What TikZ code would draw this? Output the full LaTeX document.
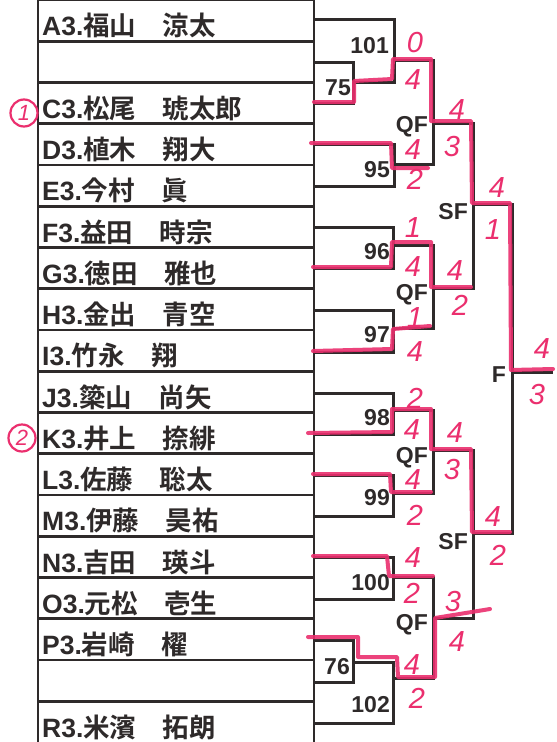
\documentclass[tikz,border=0pt]{standalone}
\usepackage{fontspec}
\setmainfont{Liberation Sans}
\newfontfamily\jp{Noto Sans CJK JP}[BoldFont={Noto Sans CJK JP Bold}]
\definecolor{ink}{HTML}{2E2A2A}
\definecolor{pen}{HTML}{EB2F6E}
\tikzset{
  tab/.style={draw=ink, line width=2.6pt},
  br/.style={draw=ink, line width=3pt, line join=miter},
  hl/.style={draw=pen, line width=4pt, line cap=round, line join=round, opacity=0.9},
  nm/.style={anchor=base west, inner sep=0pt, text=ink, font=\fontsize{26.5}{26.5}\selectfont\bfseries},
  mno/.style={anchor=east, inner sep=0pt, text=ink, font=\fontsize{23}{23}\selectfont\bfseries},
  rnd/.style={anchor=east, inner sep=0pt, text=ink, font=\fontsize{23}{23}\selectfont\bfseries},
  sc/.style={inner sep=0pt, text=pen, font=\fontsize{29}{29}\selectfont\itshape},
  circ/.style={circle, draw=pen, line width=2.2pt, inner sep=0pt, minimum size=27pt, text=pen, font=\fontsize{22}{22}\selectfont\itshape}
}
\begin{document}
\begin{tikzpicture}[x=1pt,y=-1pt]
\useasboundingbox[fill=white] (0,0) rectangle (557,742);
% table
\draw[tab] (38,0) rectangle (314,743);
\foreach \i in {1,...,17} { \draw[tab] (38,{41.25*\i}) -- (314,{41.25*\i}); }
% names
\foreach \i/\a/\b in {0/A3./福山　涼太, 2/C3./松尾　琥太郎, 3/D3./植木　翔大, 4/E3./今村　眞,
  5/F3./益田　時宗, 6/G3./徳田　雅也, 7/H3./金出　青空, 8/I3./竹永　翔, 9/J3./簗山　尚矢,
  10/K3./井上　捺緋, 11/L3./佐藤　聡太, 12/M3./伊藤　昊祐, 13/N3./吉田　瑛斗,
  14/O3./元松　壱生, 15/P3./岩崎　櫂, 17/R3./米濱　拓朗}
  { \node[nm] (name\i) at (42,{41.25*(\i+1)-5.5}) {\a{\jp\bfseries\b}}; }
% bracket
\draw[br] (315,62) -| (353,103) -- (315,103);
\draw[br] (315,19) -| (394,82) -- (353,82);
\draw[br] (315,144) -| (394,186) -- (315,186);
\draw[br] (394,60) -| (433,164) -- (394,164);
\draw[br] (433,123) -| (473,288) -- (433,288);
\draw[br] (315,227) -| (393,268) -- (315,268);
\draw[br] (393,245) -| (433,328) -- (393,328);
\draw[br] (315,310) -| (393,352) -- (315,352);
\draw[br] (473,204) -| (512,533) -- (473,533);
\draw[br] (512,372) -- (553,372);
\draw[br] (315,393) -| (393,434) -- (315,434);
\draw[br] (393,410) -| (433,493) -- (393,493);
\draw[br] (315,475) -| (393,516) -- (315,516);
\draw[br] (433,450) -| (473,618) -- (433,618);
\draw[br] (315,557) -| (393,599) -- (315,599);
\draw[br] (393,577) -| (433,678) -- (393,678);
\draw[br] (315,640) -| (353,682) -- (315,682);
\draw[br] (353,662) -| (393,723) -- (315,723);
% match labels
\node[mno] (m101) at (389,46) {101};
\node[mno] (m75) at (351,88) {75};
\node[mno] (m95) at (390,170) {95};
\node[mno] (m96) at (390,252) {96};
\node[mno] (m97) at (390,335) {97};
\node[mno] (m98) at (390,418) {98};
\node[mno] (m99) at (390,498) {99};
\node[mno] (m100) at (390,583) {100};
\node[mno] (m76) at (350,667) {76};
\node[mno] (m102) at (390,705) {102};
\node[rnd] (qf1) at (428,127) {QF};
\node[rnd] (qf2) at (428,295) {QF};
\node[rnd] (qf3) at (428,458) {QF};
\node[rnd] (qf4) at (428,625) {QF};
\node[rnd] (sf1) at (468,212) {SF};
\node[rnd] (sf2) at (468,542) {SF};
\node[rnd] (fin) at (506,375) {F};
% highlighted paths
\draw[hl] (314,102) -- (354,102) -- (354,81) -- (392,79) -- (393,59) -- (431,59) -- (431,121) -- (471,121) -- (472,203) -- (510,203) -- (511,370) -- (553,369);
\draw[hl] (311,143) -- (391,143) -- (392,168) -- (428,168);
\draw[hl] (313,267) -- (391,267) -- (392,242) -- (431,242) -- (431,287) -- (471,287);
\draw[hl] (313,351) -- (392,349) -- (393,329) -- (430,326);
\draw[hl] (308,433) -- (392,432) -- (392,409) -- (431,409) -- (431,449) -- (471,449) -- (472,532) -- (510,532);
\draw[hl] (313,474) -- (390,474) -- (391,492) -- (431,492);
\draw[hl] (313,556) -- (387,556) -- (389,576) -- (433,576);
\draw[hl] (308,637) -- (358,637) -- (358,657) -- (397,657) -- (398,677) -- (435,677) -- (435,618) -- (490,609);
% scores
\node[sc] (s1) at (415,43) {0};
\node[sc] (s2) at (413,80) {4};
\node[sc] (s3) at (457,110) {4};
\node[sc] (s4) at (452,147) {3};
\node[sc] (s5) at (413,150) {4};
\node[sc] (s6) at (415,179) {2};
\node[sc] (s7) at (497,188) {4};
\node[sc] (s8) at (493,230) {1};
\node[sc] (s9) at (413,228) {1};
\node[sc] (s10) at (413,267) {4};
\node[sc] (s11) at (455,271) {4};
\node[sc] (s12) at (460,305) {2};
\node[sc] (s13) at (415,318) {1};
\node[sc] (s14) at (415,352) {4};
\node[sc] (s15) at (542,349) {4};
\node[sc] (s16) at (537,395) {3};
\node[sc] (s17) at (415,398) {2};
\node[sc] (s18) at (412,430) {4};
\node[sc] (s19) at (455,433) {4};
\node[sc] (s20) at (452,470) {3};
\node[sc] (s21) at (413,480) {4};
\node[sc] (s22) at (415,515) {2};
\node[sc] (s23) at (493,517) {4};
\node[sc] (s24) at (498,555) {2};
\node[sc] (s25) at (413,558) {4};
\node[sc] (s26) at (412,593) {2};
\node[sc] (s27) at (453,602) {3};
\node[sc] (s28) at (457,642) {4};
\node[sc] (s29) at (412,665) {4};
\node[sc] (s30) at (417,698) {2};
% circled marks
\node[circ] (c1) at (24,113) {1};
\node[circ] (c2) at (22,438) {2};
\end{tikzpicture}
\end{document}
